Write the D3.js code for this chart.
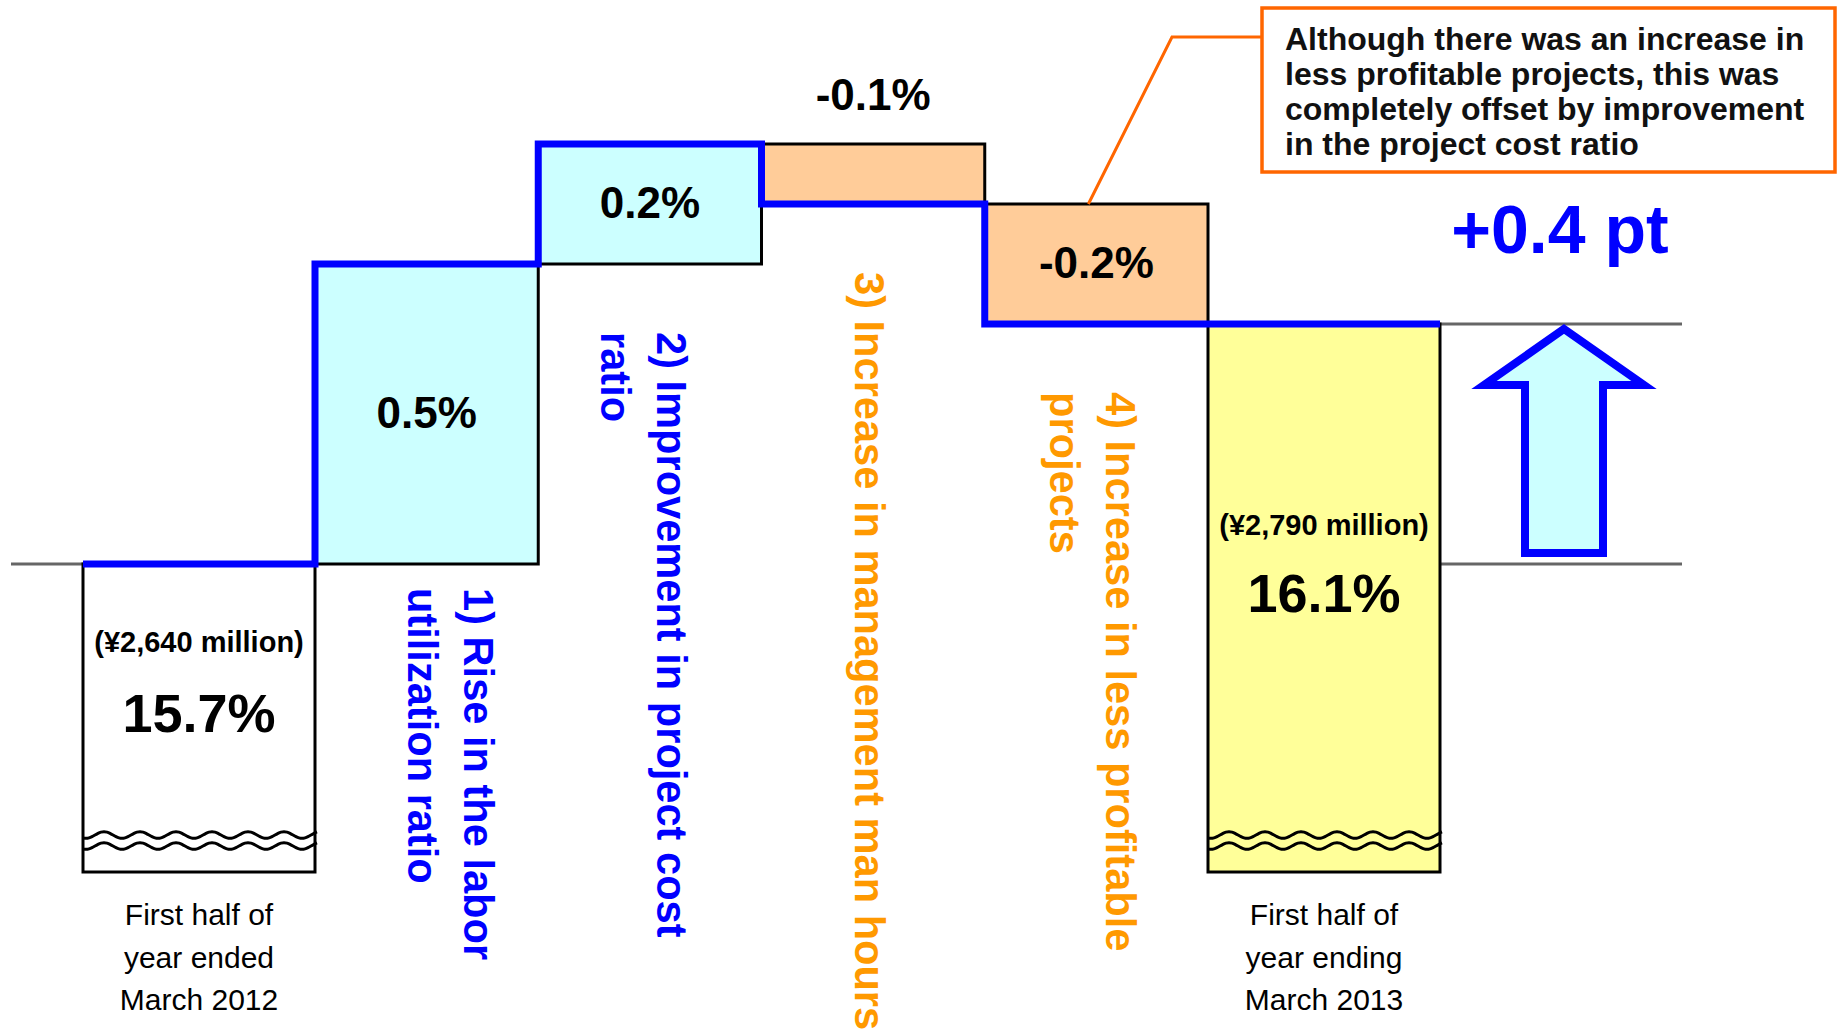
<!DOCTYPE html>
<html>
<head>
<meta charset="utf-8">
<script src="https://cdn.jsdelivr.net/npm/d3@7"></script>
<style>
  body { margin: 0; background: #fff; }
  svg { display: block; }
  text { font-family: "Liberation Sans", Arial, sans-serif; }
</style>
</head>
<body>
<script>
// Chart data
var categories = ["FY2012 H1", "Labor utilization", "Project cost", "Management hours", "Less profitable", "FY2013 H1"];
var startValue = 15.7;
var changes = [0.5, 0.2, -0.1, -0.2];
var endValue = 16.1;
var valueLabels = ["15.7%", "0.5%", "0.2%", "-0.1%", "-0.2%", "16.1%"];
var amountLabels = ["(¥2,640 million)", "(¥2,790 million)"];
var periodLabels = [
  ["First half of", "year ended", "March 2012"],
  ["First half of", "year ending", "March 2013"]
];
var factorLabels = [
  ["1) Rise in the labor", "utilization ratio"],
  ["2) Improvement in project cost", "ratio"],
  ["3) Increase in management man hours"],
  ["4) Increase in less profitable", "projects"]
];
var totalChangeLabel = "+0.4 pt";
var noteLines = [
  "Although there was an increase in",
  "less profitable projects, this was",
  "completely offset by improvement",
  "in the project cost ratio"
];

var width = 1838, height = 1030;
var blue = "#0000FF", orange = "#FF9900", noteOrange = "#FF6600";

var svg = d3.select("body").append("svg")
  .attr("width", width)
  .attr("height", height);

// running levels after each step
var levels = [startValue];
changes.forEach(function(c) {
  levels.push(+(levels[levels.length - 1] + c).toFixed(1));
});

// scales
var y = d3.scaleLinear()
  .domain(d3.extent(levels))
  .range([564, 144]);

var xMid = d3.scaleBand()
  .domain(categories.slice(1, 5))
  .range([315, 1208]);
var endWidth = 232;
var breakY = 872;   // bottom of the broken total bars

function bx(i) {
  if (i === 0) return xMid.range()[0] - endWidth;
  if (i === categories.length - 1) return xMid.range()[1];
  return xMid(categories[i]);
}
function bw(i) {
  return (i === 0 || i === categories.length - 1) ? endWidth : xMid.bandwidth();
}
function bc(i) { return bx(i) + bw(i) / 2; }

// bar table
var bars = categories.map(function(cat, i) {
  if (i === 0) return { i: i, top: y(startValue), bottom: breakY, fill: "#FFFFFF" };
  if (i === categories.length - 1) return { i: i, top: y(endValue), bottom: breakY, fill: "#FFFF99" };
  var a = y(levels[i - 1]), b = y(levels[i]);
  return { i: i, top: Math.min(a, b), bottom: Math.max(a, b), fill: changes[i - 1] >= 0 ? "#CCFFFF" : "#FFCC99" };
});

// gray reference lines
var rightEnd = bx(5) + bw(5) + 242;
svg.append("line")
  .attr("x1", 11).attr("x2", bx(1))
  .attr("y1", y(startValue)).attr("y2", y(startValue))
  .attr("stroke", "#666").attr("stroke-width", 3);
[startValue, endValue].forEach(function(v) {
  svg.append("line")
    .attr("x1", bx(5) + bw(5)).attr("x2", rightEnd)
    .attr("y1", y(v)).attr("y2", y(v))
    .attr("stroke", "#666").attr("stroke-width", 3);
});

// bars
svg.selectAll("rect.bar")
  .data(bars)
  .enter().append("rect")
  .attr("class", "bar")
  .attr("x", function(d) { return bx(d.i); })
  .attr("y", function(d) { return d.top; })
  .attr("width", function(d) { return bw(d.i); })
  .attr("height", function(d) { return d.bottom - d.top; })
  .attr("fill", function(d) { return d.fill; })
  .attr("stroke", "#000")
  .attr("stroke-width", 3);

// axis break waves on the total bars
var wave = d3.line().curve(d3.curveBasis);
[0, categories.length - 1].forEach(function(i) {
  [835, 846].forEach(function(wy) {
    var x0 = bx(i), x1 = bx(i) + bw(i) + 3;
    var pts = d3.range(x0, x1 + 0.1, 3).map(function(x) {
      return [x, wy - 3.5 * Math.cos(2 * Math.PI * (x - x0 - 21) / 36)];
    });
    svg.append("path")
      .attr("d", wave(pts))
      .attr("fill", "none")
      .attr("stroke", "#000")
      .attr("stroke-width", 3);
  });
});

// blue step line
var stepPts = levels.map(function(v, i) { return [bx(i), y(v)]; });
stepPts.push([bx(5) + bw(5), y(endValue)]);
svg.append("path")
  .attr("d", d3.line().curve(d3.curveStepAfter)(stepPts))
  .attr("fill", "none")
  .attr("stroke", blue)
  .attr("stroke-width", 7)
  .attr("stroke-linejoin", "miter");

// value labels
var amountOffset = [88, 211], valueOffset = [168, 288];
[0, categories.length - 1].forEach(function(i, k) {
  svg.append("text")
    .attr("x", bc(i)).attr("y", bars[i].top + amountOffset[k])
    .attr("text-anchor", "middle")
    .attr("font-size", 29).attr("font-weight", "bold")
    .text(amountLabels[k]);
  svg.append("text")
    .attr("x", bc(i)).attr("y", bars[i].top + valueOffset[k])
    .attr("text-anchor", "middle")
    .attr("font-size", 54).attr("font-weight", "bold")
    .text(valueLabels[i]);
});
d3.range(1, 5).forEach(function(i) {
  var b = bars[i];
  var thin = (b.bottom - b.top) < 80;
  svg.append("text")
    .attr("x", bc(i))
    .attr("y", thin ? b.top - 34 : (b.top + b.bottom) / 2 + 14)
    .attr("text-anchor", "middle")
    .attr("font-size", 44).attr("font-weight", "bold")
    .text(valueLabels[i]);
});

// rotated factor labels
var factorX = [149, 119, 93, 121];
var factorTop = [y(startValue) + 24];
d3.range(2, 5).forEach(function(i) { factorTop.push(bars[i].bottom + 68); });
factorLabels.forEach(function(lines, k) {
  var i = k + 1;
  var g = svg.append("g")
    .attr("transform", "translate(" + (bx(i) + factorX[k]) + "," + factorTop[k] + ") rotate(90)");
  lines.forEach(function(line, j) {
    g.append("text")
      .attr("x", 0).attr("y", j * 56)
      .attr("font-size", 41.6).attr("font-weight", "bold")
      .attr("fill", changes[k] >= 0 ? blue : orange)
      .text(line);
  });
});

// period labels under totals
[0, categories.length - 1].forEach(function(i, k) {
  periodLabels[k].forEach(function(line, j) {
    svg.append("text")
      .attr("x", bc(i)).attr("y", 925 + j * 42.5)
      .attr("text-anchor", "middle")
      .attr("font-size", 30)
      .text(line);
  });
});

// total change arrow
var ax = bx(5) + bw(5) + 124;
var tipY = y(endValue) + 5, baseY = y(startValue) - 11, headY = tipY + 56;
var arrowPts = [
  [ax, tipY], [ax + 80, headY], [ax + 39, headY], [ax + 39, baseY],
  [ax - 39, baseY], [ax - 39, headY], [ax - 80, headY]
];
svg.append("path")
  .attr("d", d3.line()(arrowPts) + "Z")
  .attr("fill", "#CCFFFF")
  .attr("stroke", blue)
  .attr("stroke-width", 8)
  .attr("stroke-linejoin", "miter");

svg.append("text")
  .attr("x", ax - 4).attr("y", 253)
  .attr("text-anchor", "middle")
  .attr("font-size", 68).attr("font-weight", "bold")
  .attr("fill", blue)
  .text(totalChangeLabel);

// callout note
svg.append("path")
  .attr("d", d3.line()([[1262, 37], [1172, 37], [bc(4) - 8, y(levels[3])]]))
  .attr("fill", "none")
  .attr("stroke", noteOrange)
  .attr("stroke-width", 3);
svg.append("rect")
  .attr("x", 1262).attr("y", 8)
  .attr("width", 573).attr("height", 164)
  .attr("fill", "#fff")
  .attr("stroke", noteOrange)
  .attr("stroke-width", 3.5);
noteLines.forEach(function(line, j) {
  svg.append("text")
    .attr("x", 1285).attr("y", 50 + j * 35)
    .attr("font-size", 32).attr("font-weight", "bold")
    .attr("fill", "#111")
    .text(line);
});
</script>
</body>
</html>
